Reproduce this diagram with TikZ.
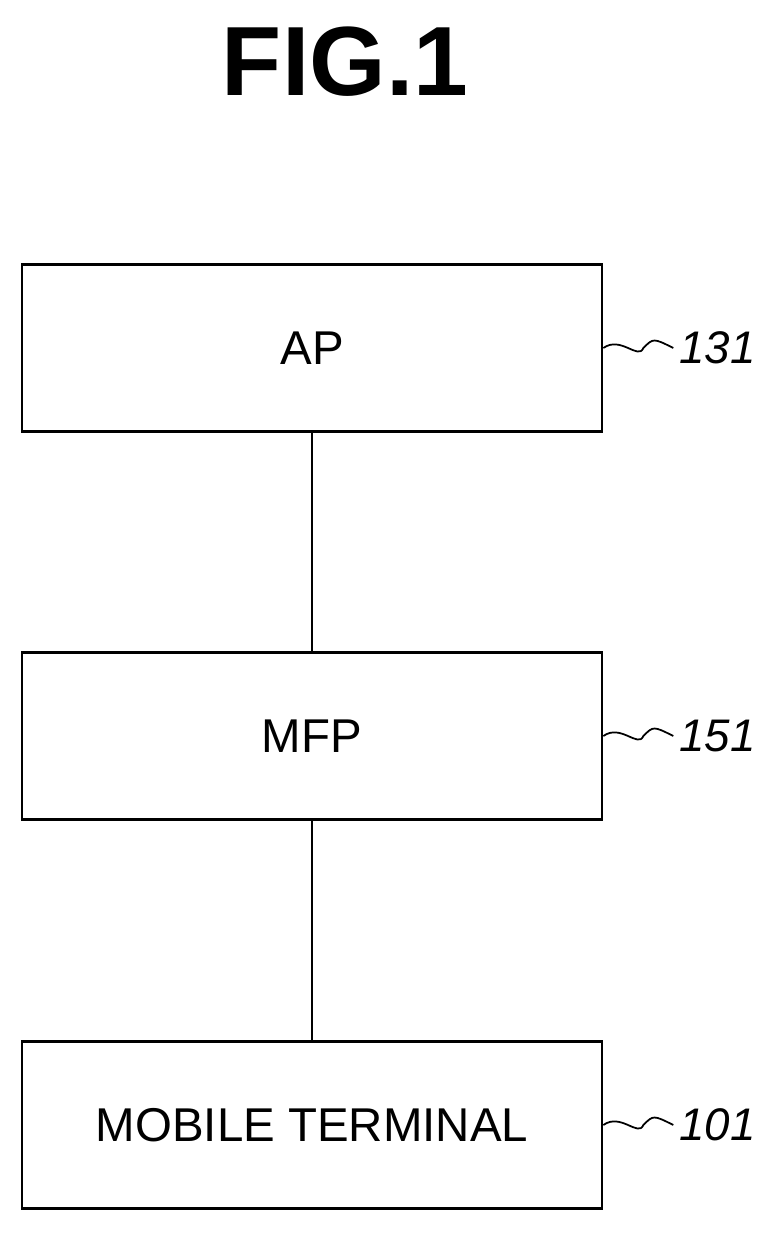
\documentclass[tikz,border=0pt]{standalone}
\usepackage{fontspec}
\setmainfont{Liberation Sans}
\usetikzlibrary{positioning}
\tikzset{
    block/.style={draw, line width=1.6pt, minimum width=11.6cm, minimum height=3.34cm, font=\fontsize{27}{30}\selectfont},
    reflabel/.style={font=\fontsize{26}{30}\selectfont\itshape, anchor=west},
}
\begin{document}
\begin{tikzpicture}[x=0.02cm, y=-0.02cm]
    \useasboundingbox (0,0) rectangle (777,1233);
    \node[font=\fontsize{56}{60}\selectfont\bfseries] (fig) at (345,62) {FIG.1};
    \node[block] (ap) at (312,348) {AP};
    \node[block] (mfp) at (312,736) {MFP};
    \node[block] (mt) at (312,1125) {MOBILE TERMINAL};
    \draw[line width=1.2pt] (ap) -- (mfp);
    \draw[line width=1.2pt] (mfp) -- (mt);
    % reference labels
    \foreach \nm/\txt in {ap/131, mfp/151, mt/101} {
        \coordinate (\nm tip) at ([xshift=1.4cm]\nm.east);
        \draw[line width=1pt] (\nm.east) .. controls ([xshift=0.35cm, yshift=0.25cm]\nm.east) and ([xshift=0.7cm, yshift=-0.25cm]\nm.east) .. ([xshift=0.8cm]\nm.east)
            .. controls ([xshift=1.0cm, yshift=0.2cm]\nm.east) .. (\nm tip);
        \node[reflabel] (\nm lbl) at (\nm tip) {\txt};
    }
\end{tikzpicture}
\end{document}
